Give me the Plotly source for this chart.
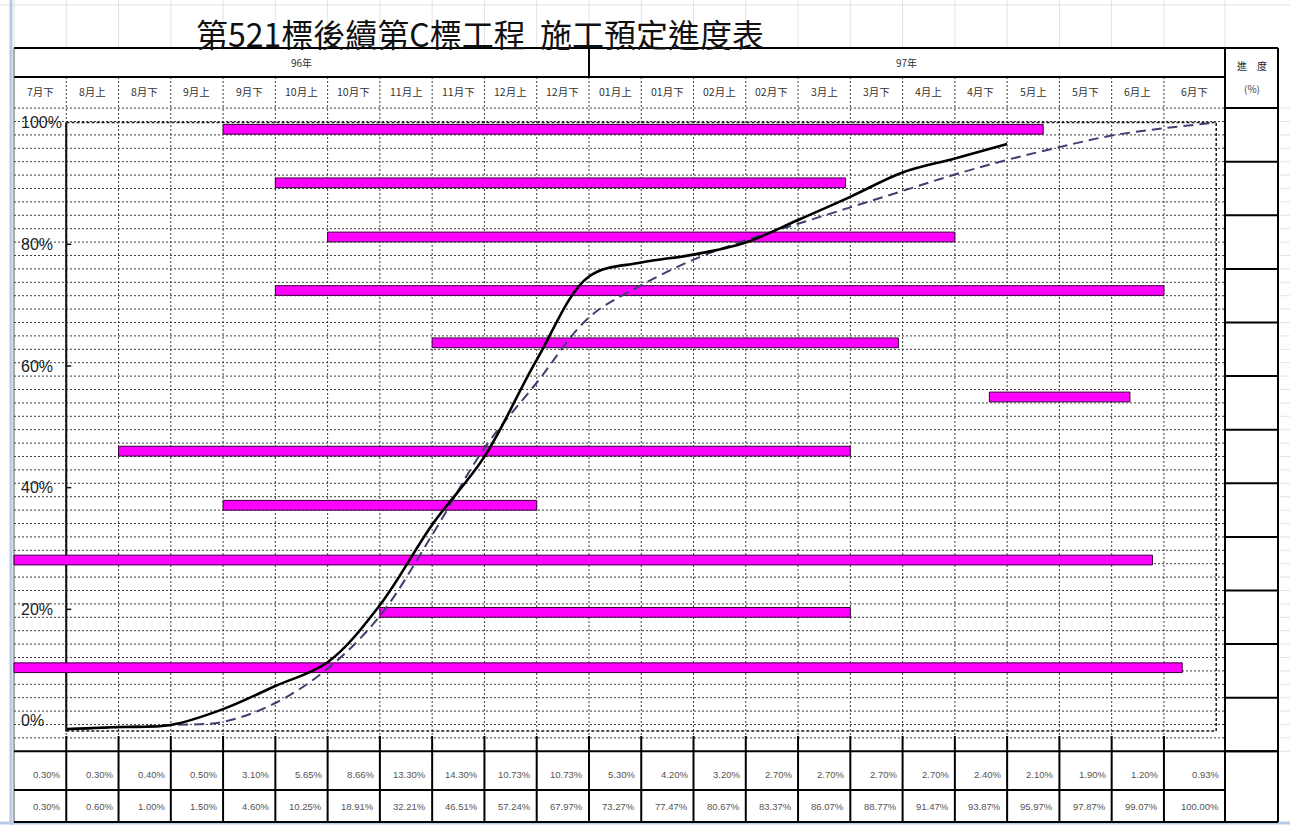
import plotly.graph_objects as go
import numpy as np

# ---------------- data ----------------
title_text = "第521標後續第C標工程  施工預定進度表"
years = ["96年", "97年"]
periods = ["7月下", "8月上", "8月下", "9月上", "9月下", "10月上", "10月下", "11月上", "11月下",
           "12月上", "12月下", "01月上", "01月下", "02月上", "02月下", "3月上", "3月下", "4月上",
           "4月下", "5月上", "5月下", "6月上", "6月下"]
period_pct = [0.30, 0.30, 0.40, 0.50, 3.10, 5.65, 8.66, 13.30, 14.30, 10.73, 10.73, 5.30,
              4.20, 3.20, 2.70, 2.70, 2.70, 2.70, 2.40, 2.10, 1.90, 1.20, 0.93]
planned_cum = [0.30, 0.60, 1.00, 1.50, 4.60, 10.25, 18.91, 32.21, 46.51, 57.24, 67.97, 73.27,
               77.47, 80.67, 83.37, 86.07, 88.77, 91.47, 93.87, 95.97, 97.87, 99.07, 100.00]
actual_cum = [0.3, 0.65, 1.0, 3.6, 7.4, 11.3, 20.7, 33.9, 45.1, 61.0, 74.7, 77.0, 78.3,
              80.3, 84.0, 87.8, 91.8, 94.1, 96.5]
# task bars: start / end in period-column units, vertical level in %
task_start = [4.0, 5.0, 6.0, 5.0, 8.0, 18.66, 2.0, 4.0, 0.0, 7.0, 0.0]
task_end = [19.69, 15.91, 18.0, 22.0, 16.92, 21.35, 16.0, 10.0, 21.78, 16.0, 22.35]
task_level = [98.9, 90.1, 81.2, 72.4, 63.8, 54.9, 46.0, 37.1, 28.1, 19.5, 10.4]
y_ticks = [0, 20, 40, 60, 80, 100]

# ---------------- layout geometry (sheet, in px) ----------------
W, H = 1290, 825
X0, CW = 14.0, 52.27          # left edge of first column, column width
Y0PX, PPX = 731.0, 6.084      # pixel of 0 %, pixels per %
col_edges = [X0 + CW * i for i in range(len(periods))] + [1225.0]
TABLE_R = 1278.0
ROW_TOP, ROW_H, N_ROWS = 108.1, 13.4, 48
GRID_BOT = ROW_TOP + ROW_H * N_ROWS


def px(x):
    return x / W


def py(y):
    return 1 - y / H


shapes = []


def hline(y, x0, x1, color="black", width=1, dash="solid"):
    shapes.append(dict(type="line", xref="paper", yref="paper", x0=px(x0), x1=px(x1),
                       y0=py(y), y1=py(y), line=dict(color=color, width=width, dash=dash),
                       layer="below"))


def vline(x, y0, y1, color="black", width=1, dash="solid"):
    shapes.append(dict(type="line", xref="paper", yref="paper", x0=px(x), x1=px(x),
                       y0=py(y0), y1=py(y1), line=dict(color=color, width=width, dash=dash),
                       layer="below"))


# faint Excel gridlines outside the table
for e in col_edges:
    vline(e, 0, 48, color="#e2e2e2")
hline(5, 0, W, color="#e2e2e2")
for k in range(N_ROWS + 1):
    hline(ROW_TOP + k * ROW_H, TABLE_R, W, color="#e4e4e4")
vline(11, 0, H, color="#b7cbe6", width=3)
hline(823, 0, W, color="#b7cbe6", width=3)

# dotted sheet grid
GRID_DOT = "#3c3c3c"
DOTS = "2px,2px"
for k in range(N_ROWS):
    hline(ROW_TOP + k * ROW_H, X0, col_edges[-1], color=GRID_DOT, width=1, dash=DOTS)
for e in col_edges[1:-1]:
    vline(e, 77, 740, color=GRID_DOT, width=1, dash=DOTS)

# solid header/footer borders
hline(48, X0, TABLE_R, width=2)
hline(77, X0, col_edges[-1], width=2)
vline(X0, 48, 822, color="#555555", width=1)
vline(col_edges[11], 48, 77, width=2)
vline(col_edges[-1], 48, 822, width=2)
vline(TABLE_R, 48, 822, width=2)
for k in range(0, N_ROWS + 1, 4):
    hline(ROW_TOP + k * ROW_H, col_edges[-1], TABLE_R, width=2)
hline(GRID_BOT, X0, TABLE_R, width=2)
hline(790, X0, col_edges[-1], width=2)
hline(822, X0, TABLE_R, width=2)
for e in col_edges[1:-1]:
    vline(e, 736, 822, width=2)

# chart frame and value axis (data coordinates)
n = len(planned_cum)
shapes.append(dict(type="rect", xref="x", yref="y", x0=1, x1=n, y0=0, y1=100,
                   line=dict(color="#1a1a1a", width=1.5, dash="3px,2px"), layer="below"))
shapes.append(dict(type="line", xref="x", yref="y", x0=1, x1=1, y0=0, y1=100,
                   line=dict(color="#111111", width=2), layer="below"))
for t in y_ticks[1:-1]:
    shapes.append(dict(type="line", xref="x", yref="y", x0=1, x1=1 + 5 / CW, y0=t, y1=t,
                       line=dict(color="#111111", width=1.5), layer="below"))

# ---------------- traces ----------------
fig = go.Figure()
x_pts = np.arange(1, n + 1)
fig.add_trace(go.Scatter(x=x_pts, y=planned_cum, mode="lines", name="預定進度",
                         line=dict(color="#3f3f70", width=2, dash="10px,6px",
                                   shape="spline", smoothing=1.0),
                         hoverinfo="skip"))
fig.add_trace(go.Scatter(x=x_pts[:len(actual_cum)], y=actual_cum, mode="lines", name="實際進度",
                         line=dict(color="#000000", width=2.6, shape="spline", smoothing=1.0),
                         hoverinfo="skip"))
fig.add_trace(go.Bar(y=task_level, x=[e - s for s, e in zip(task_start, task_end)],
                     base=task_start, orientation="h", width=1.6,
                     marker=dict(color="#ff00ff", line=dict(color="#3a003a", width=1)),
                     hoverinfo="skip"))

# ---------------- texts ----------------
ann = []


def label(text, x, y, size, color, family="Noto Sans CJK TC", xanchor="center"):
    ann.append(dict(text=text, x=px(x), y=py(y), xref="paper", yref="paper",
                    xanchor=xanchor, yanchor="middle", showarrow=False,
                    font=dict(family=family, size=size, color=color)))


label(title_text, 480, 33, 32, "#111111")
label(years[0], (col_edges[0] + col_edges[11]) / 2, 62.5, 10, "#333333")
label(years[1], (col_edges[11] + col_edges[-1]) / 2, 62.5, 10, "#333333")
label("進　度", (col_edges[-1] + TABLE_R) / 2, 66, 10, "#222222")
label("(%)", (col_edges[-1] + TABLE_R) / 2, 88, 10, "#444444")
for i, lab in enumerate(periods):
    cx = (col_edges[i] + col_edges[i + 1]) / 2
    label(lab, cx, 91.5, 10.5, "#333333")
    label(f"{period_pct[i]:.2f}%", col_edges[i + 1] - 4, 774, 9.5, "#555555",
          family="Liberation Sans", xanchor="right")
    label(f"{planned_cum[i]:.2f}%", col_edges[i + 1] - 4, 806, 9.5, "#555555",
          family="Liberation Sans", xanchor="right")

tick_text = [f"{t}%" if t else f"{t}%<br> " for t in y_ticks]

fig.update_layout(
    width=W, height=H, margin=dict(l=0, r=0, t=0, b=0),
    paper_bgcolor="white", plot_bgcolor="white",
    showlegend=False, barmode="overlay",
    shapes=shapes, annotations=ann,
    xaxis=dict(range=[(0 - X0) / CW, (W - X0) / CW], visible=False, fixedrange=True),
    yaxis=dict(range=[(Y0PX - H) / PPX, Y0PX / PPX], showgrid=False, zeroline=False,
               showline=False, tickvals=y_ticks, ticktext=tick_text,
               ticklabelposition="inside", ticklabelstandoff=18, ticks="",
               tickfont=dict(family="Liberation Sans", size=16, color="#222222"),
               fixedrange=True),
)

fig.write_html("out.html")
